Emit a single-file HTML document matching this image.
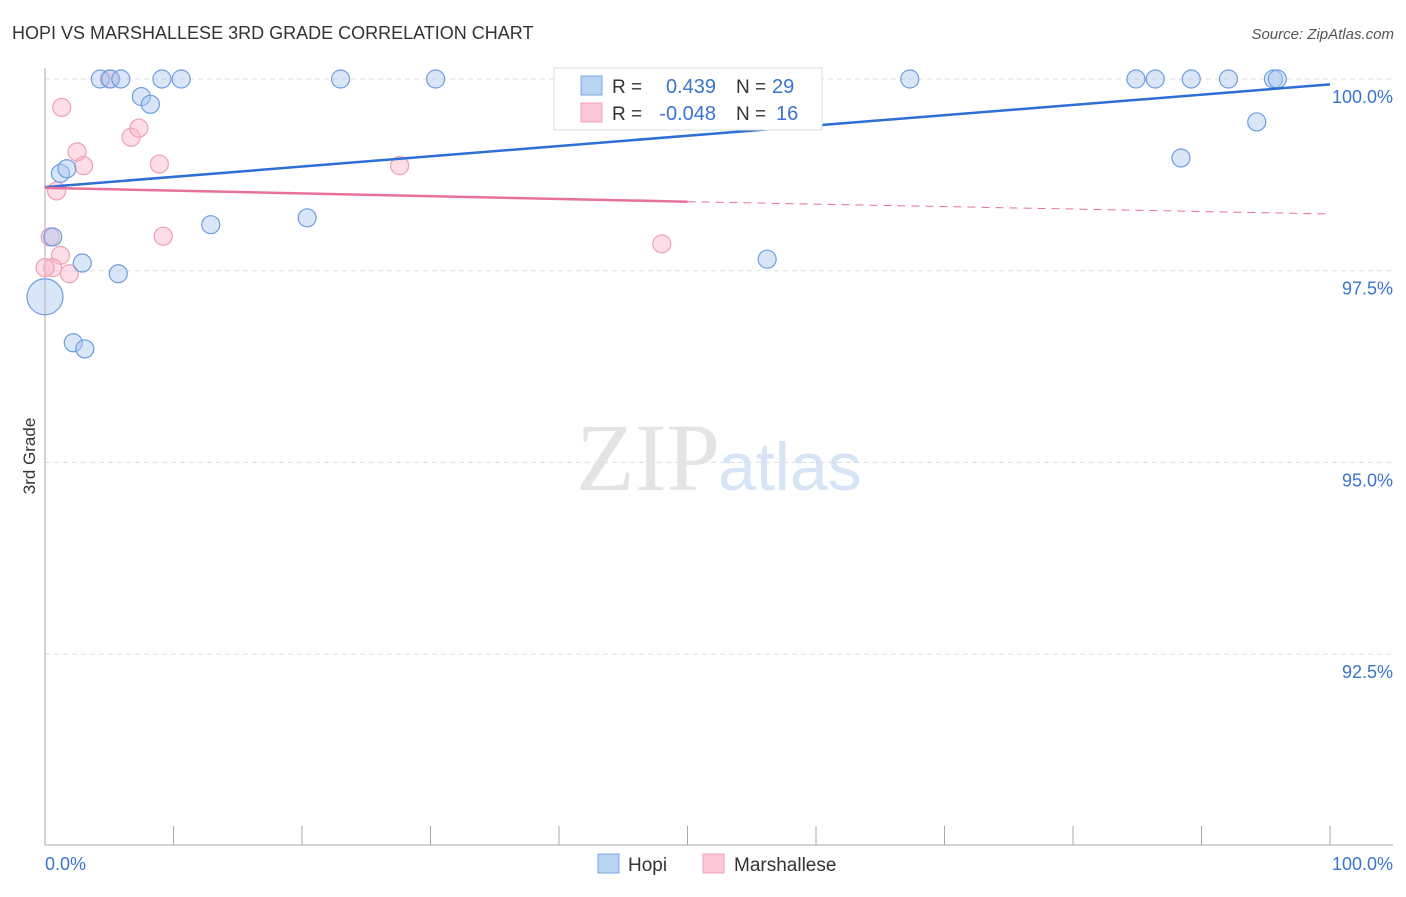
<!DOCTYPE html>
<html><head><meta charset="utf-8"><style>
body{margin:0;background:#fff;font-family:"Liberation Sans",sans-serif}
</style></head><body>
<svg width="1406" height="892" style="font-family:'Liberation Sans',sans-serif">
<text x="12" y="39" font-size="18" fill="#333">HOPI VS MARSHALLESE 3RD GRADE CORRELATION CHART</text>
<text x="1394" y="39" font-size="15" fill="#555" font-style="italic" text-anchor="end">Source: ZipAtlas.com</text>
<text x="35" y="456" font-size="17" fill="#333" transform="rotate(-90 35 456)" text-anchor="middle">3rd Grade</text>
<g id="grid"></g>
<text x="720" y="490" font-size="96" fill="#e4e4e4" text-anchor="end" font-family="Liberation Serif">ZIP</text>
<text x="718" y="490" font-size="68" fill="#d6e4f5">atlas</text>
<g id="marks"></g>
<g>
<rect x="554" y="68" width="268" height="62" fill="#fff" stroke="#ddd"/>
<rect x="581" y="76" width="21" height="19" fill="#b9d3f3" stroke="#7aa6e0"/>
<rect x="581" y="103" width="21" height="19" fill="#fcc8d8" stroke="#eea0b8"/>
<text x="612" y="93" font-size="19" fill="#333">R = </text><text x="716" y="93" font-size="20" fill="#3b74cf" text-anchor="end">0.439</text>
<text x="736" y="93" font-size="19" fill="#333">N = </text><text x="772" y="93" font-size="20" fill="#3b74cf">29</text>
<text x="612" y="120" font-size="19" fill="#333">R = </text><text x="716" y="120" font-size="20" fill="#3b74cf" text-anchor="end">-0.048</text>
<text x="736" y="120" font-size="19" fill="#333">N = </text><text x="776" y="120" font-size="20" fill="#3b74cf">16</text>
</g>
<g>
<rect x="598" y="854" width="21" height="19" fill="#b9d3f3" stroke="#7aa6e0"/>
<text x="628" y="871" font-size="19" fill="#333">Hopi</text>
<rect x="703" y="854" width="21" height="19" fill="#fcc8d8" stroke="#eea0b8"/>
<text x="734" y="871" font-size="19" fill="#333">Marshallese</text>
</g>
</svg>
<script>
const yTicks=[100,97.5,95,92.5];
const yTickLabels=["100.0%","97.5%","95.0%","92.5%"];
const xTickLabels=["0.0%","100.0%"];
const hopiX=[4.3,5.1,5.9,9.1,10.6,23.0,30.4,67.3,84.9,86.4,89.2,92.1,95.6,95.9,7.5,8.2,1.2,1.7,12.9,20.4,0.6,2.9,5.7,56.2,88.4,94.3,0,2.2,3.1];
const hopiY=[100,100,100,100,100,100,100,100,100,100,100,100,100,100,99.77,99.67,98.77,98.83,98.10,98.19,97.94,97.60,97.46,97.65,98.97,99.44,97.16,96.56,96.48];
const hopiR=[9,9,9,9,9,9,9,9,9,9,9,9,9,9,9,9,9,9,9,9,9,9,9,9,9,9,18,9,9];
const marX=[5.0,1.3,2.5,3.0,6.7,7.3,8.9,27.6,0.9,0.4,9.2,1.2,0.6,1.9,48.0,0];
const marY=[100,99.63,99.05,98.87,99.24,99.36,98.89,98.87,98.54,97.94,97.95,97.70,97.54,97.46,97.85,97.54];
const hopiTrend=[[0,98.59],[100,99.93]];
const marTrend=[[0,98.58],[50,98.40],[100,98.24]];
const X=v=>45+v*12.85, Y=v=>79+(100-v)/2.5*191.7;
const NS="http://www.w3.org/2000/svg";
const g=document.getElementById('grid'), m=document.getElementById('marks');
function mk(p,tag,a){const e=document.createElementNS(NS,tag);for(const k in a)e.setAttribute(k,a[k]);p.appendChild(e);return e;}
yTicks.forEach((t,i)=>{
 const l=mk(g,'line',{x1:45,x2:1393,y1:Y(t),y2:Y(t),stroke:'#ddd','stroke-dasharray':'5,4'});
 
 
 const tx=mk(g,'text',{x:1393,y:Y(t)+24,'font-size':18,fill:'#3b74cf','text-anchor':'end'});
 tx.textContent=yTickLabels[i];
 
 
});
const ax=mk(g,'line',{x1:45,x2:45,y1:68,y2:845,stroke:'#aaa'});


const bx=mk(g,'line',{x1:45,x2:1393,y1:845,y2:845,stroke:'#aaa'});


for(let i=0;i<=10;i++){const t=mk(g,'line',{x1:X(i*10),x2:X(i*10),y1:826,y2:845,stroke:'#aaa'});
 
 }
[[0,'start'],[100,'end']].forEach(([v,a],i)=>{const t=mk(g,'text',{x:i?1393:45,y:870,'font-size':18,fill:'#3b74cf','text-anchor':a});t.textContent=xTickLabels[i];
 
 });
marX.forEach((x,i)=>{const c=mk(m,'circle',{cx:X(x),cy:Y(marY[i]),r:9,fill:'rgba(250,180,200,0.45)',stroke:'#eea0b8','stroke-width':1.2});
 
 });
hopiX.forEach((x,i)=>{const c=mk(m,'circle',{cx:X(x),cy:Y(hopiY[i]),r:hopiR[i],fill:'rgba(170,200,240,0.45)',stroke:'#6b9de0','stroke-width':1.2});
 
 });
const hl=mk(m,'line',{x1:X(hopiTrend[0][0]),y1:Y(hopiTrend[0][1]),x2:X(hopiTrend[1][0]),y2:Y(hopiTrend[1][1]),stroke:'#2d6fd4','stroke-width':2.5});


const ml=mk(m,'line',{x1:X(marTrend[0][0]),y1:Y(marTrend[0][1]),x2:X(marTrend[1][0]),y2:Y(marTrend[1][1]),stroke:'#e8719a','stroke-width':2.5});


const md=mk(m,'line',{x1:X(marTrend[1][0]),y1:Y(marTrend[1][1]),x2:X(marTrend[2][0]),y2:Y(marTrend[2][1]),stroke:'#e8719a','stroke-width':1,'stroke-dasharray':'8,6'});


</script>
</body></html>
